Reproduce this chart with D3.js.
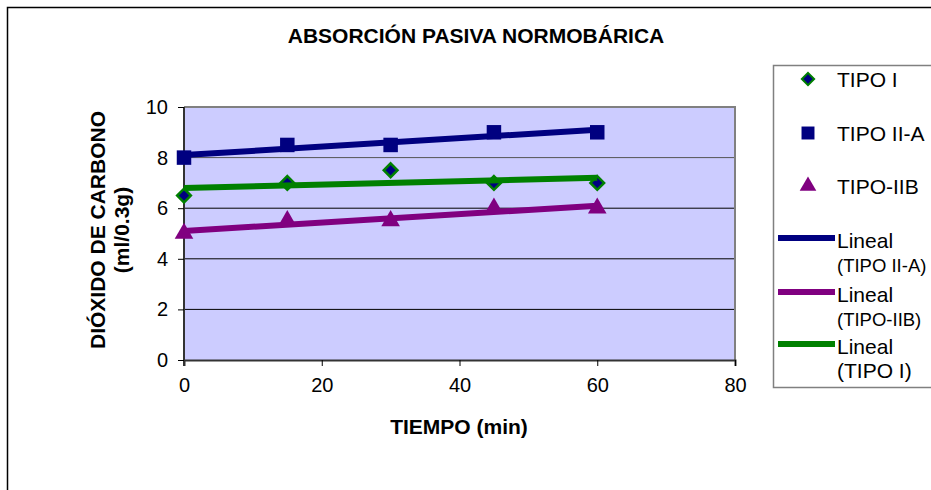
<!DOCTYPE html>
<html>
<head>
<meta charset="utf-8">
<script src="https://cdn.jsdelivr.net/npm/d3@7"></script>
<style>
  body { margin: 0; background: #fff; }
  svg text { font-family: "Liberation Sans", Arial, sans-serif; fill: #000; }
</style>
</head>
<body>
<svg id="chart" width="931" height="490"></svg>
<script>
// Datos
const tiempos = [0, 15, 30, 45, 60];
const tipoI = [6.5, 7.0, 7.5, 7.0, 7.0];
const tipoIIA = [8.0, 8.5, 8.5, 9.0, 9.0];
const tipoIIB = [5.0, 5.5, 5.5, 6.0, 6.0];
const xTicks = [0, 20, 40, 60, 80];
const yTicks = [0, 2, 4, 6, 8, 10];

const svg = d3.select("#chart");

// marco exterior
svg.append("path")
  .attr("d", "M7.5,490 V7.5 H931")
  .attr("fill", "none")
  .attr("stroke", "#000")
  .attr("stroke-width", 1.5);

const x = d3.scaleLinear().domain([0, 80]).range([184, 735]);
const y = d3.scaleLinear().domain([0, 10]).range([360, 107]);

// fondo del área de trazado
svg.append("rect")
  .attr("x", x(0)).attr("y", y(10))
  .attr("width", x(80) - x(0)).attr("height", y(0) - y(10))
  .attr("fill", "#ccccff");

// líneas de cuadrícula
svg.append("g")
  .selectAll("line")
  .data(yTicks.filter(d => d > 0 && d < 10))
  .enter().append("line")
  .attr("x1", x(0)).attr("x2", x(80))
  .attr("y1", d => y(d)).attr("y2", d => y(d))
  .attr("stroke", d => d === 8 ? "#555" : "#000").attr("stroke-width", 1);

// borde superior y derecho en gris
svg.append("path")
  .attr("d", `M${x(0)},${y(10)} H${x(80)} V${y(0)}`)
  .attr("fill", "none")
  .attr("stroke", "#808080")
  .attr("stroke-width", 2);

// ejes
const xAxis = svg.append("g")
  .attr("transform", `translate(0,${y(0)})`)
  .call(d3.axisBottom(x).tickValues(xTicks).tickSize(6).tickPadding(12));
const yAxis = svg.append("g")
  .attr("transform", `translate(${x(0)},0)`)
  .call(d3.axisLeft(y).tickValues(yTicks).tickSize(6).tickPadding(10));

[xAxis, yAxis].forEach(a => {
  a.select(".domain").attr("stroke", "#333").attr("stroke-width", 2);
  a.selectAll(".tick line").attr("stroke", "#000");
  a.selectAll(".tick text")
    .attr("font-size", "20px")
    .attr("font-family", "Liberation Sans, Arial, sans-serif");
});
yAxis.select(".domain").attr("d", `M0,${y(0) + 6}V${y(10)}`);

// títulos
svg.append("text")
  .attr("x", 476).attr("y", 43)
  .attr("text-anchor", "middle")
  .attr("font-size", "21px").attr("font-weight", "bold")
  .text("ABSORCIÓN PASIVA NORMOBÁRICA");

svg.append("text")
  .attr("x", 459).attr("y", 434)
  .attr("text-anchor", "middle")
  .attr("font-size", "21px").attr("font-weight", "bold")
  .text("TIEMPO (min)");

const yTitle = svg.append("text")
  .attr("transform", "translate(0,230) rotate(-90)")
  .attr("text-anchor", "middle")
  .attr("font-size", "21px").attr("font-weight", "bold");
yTitle.append("tspan").attr("x", 0).attr("y", 105).text("DIÓXIDO DE CARBONO");
yTitle.append("tspan").attr("x", 0).attr("y", 129).text("(ml/0.3g)");

// regresión lineal (línea de tendencia)
function lineal(xs, ys) {
  const mx = d3.mean(xs), my = d3.mean(ys);
  const b = d3.sum(xs, (v, i) => (v - mx) * (ys[i] - my)) / d3.sum(xs, v => (v - mx) ** 2);
  return [[xs[0], my + b * (xs[0] - mx)], [xs[xs.length - 1], my + b * (xs[xs.length - 1] - mx)]];
}

const series = [
  { name: "TIPO I", values: tipoI, symbol: d3.symbolDiamond2, fill: "#000080", stroke: "#008000", line: "#008000", size: 120 },
  { name: "TIPO II-A", values: tipoIIA, symbol: d3.symbolSquare, fill: "#000080", stroke: "none", line: "#000080", size: 210 },
  { name: "TIPO-IIB", values: tipoIIB, symbol: d3.symbolTriangle, fill: "#800080", stroke: "none", line: "#800080", size: 150 }
];

// marcadores
series.forEach(s => {
  svg.append("g")
    .selectAll("path")
    .data(s.values)
    .enter().append("path")
    .attr("transform", (d, i) => `translate(${x(tiempos[i])},${y(d)})`)
    .attr("d", d3.symbol().type(s.symbol).size(s.size))
    .attr("fill", s.fill)
    .attr("stroke", s.stroke)
    .attr("stroke-width", 2.5);
});

// líneas de tendencia encima
const trendOrder = [series[1], series[2], series[0]];
trendOrder.forEach(s => {
  const pts = lineal(tiempos, s.values);
  svg.append("path")
    .attr("d", d3.line().x(d => x(d[0])).y(d => y(d[1]))(pts))
    .attr("stroke", s.line)
    .attr("stroke-width", 6)
    .attr("fill", "none");
});

// leyenda
svg.append("path")
  .attr("d", "M931,65.5 H773.5 V387.5 H931")
  .attr("fill", "#fff")
  .attr("stroke", "#808080")
  .attr("stroke-width", 1.5);

const legMarks = [79, 133, 186];
series.forEach((s, i) => {
  svg.append("path")
    .attr("transform", `translate(808,${legMarks[i]})`)
    .attr("d", d3.symbol().type(s.symbol).size(s.size * 0.8))
    .attr("fill", s.fill)
    .attr("stroke", s.stroke)
    .attr("stroke-width", 2);
  svg.append("text")
    .attr("x", 837).attr("y", legMarks[i] + 8)
    .attr("font-size", "21px")
    .text(s.name);
});

const legLines = [
  { y: 238, color: "#000080", label: "(TIPO II-A)" },
  { y: 292, color: "#800080", label: "(TIPO-IIB)" },
  { y: 344, color: "#008000", label: "(TIPO I)" }
];
legLines.forEach(l => {
  svg.append("line")
    .attr("x1", 778).attr("x2", 835)
    .attr("y1", l.y).attr("y2", l.y)
    .attr("stroke", l.color).attr("stroke-width", 6);
  const t = svg.append("text").attr("font-size", "21px");
  t.append("tspan").attr("x", 837).attr("y", l.y + 10).text("Lineal");
  // las etiquetas largas se reducen un poco para que quepan en el borde
  t.append("tspan").attr("x", 837).attr("y", l.y + 34)
    .attr("font-size", l.label.length > 9 ? "18.5px" : "21px")
    .text(l.label);
});
</script>
</body>
</html>
